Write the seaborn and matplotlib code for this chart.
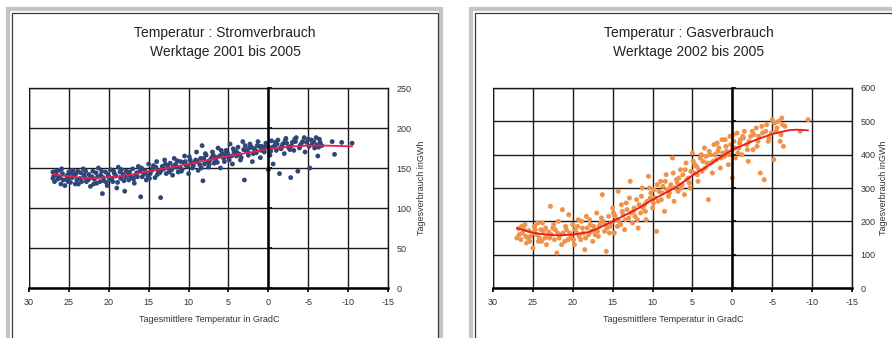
import matplotlib
matplotlib.use("Agg")
import matplotlib.pyplot as plt
import seaborn as sns
import pandas as pd
from matplotlib.patches import Rectangle

sns.set_theme(style="white")
plt.rcParams["font.family"] = ["Liberation Sans", "DejaVu Sans"]

# ---------------- data ----------------
strom_temp = [27, 27, 26.8, 26.5, 26.2, 26, 25.8, 25.5, 25.3, 25, 25, 24.8, 24.5, 24.3, 24, 23.8, 23.5, 23.2, 23, 22.8,
              22.5, 22.3, 22, 21.8, 21.5, 21.3, 21, 20.8, 20.6, 20.4, 20.2, 20, 19.8, 19.5, 19.3, 19, 18.8, 18.5, 18.2, 18,
              17.8, 17.5, 17.3, 17, 16.8, 16.5, 16.3, 16, 15.8, 15.5, 15.3, 15, 14.8, 14.5, 14.2, 14, 13.8, 13.5, 13.3, 13,
              12.8, 12.5, 12.3, 12, 11.8, 11.5, 11.3, 11, 10.8, 10.5, 10.3, 10, 9.8, 9.5, 9.3, 9, 8.8, 8.5, 8.3, 8.2,
              8, 7.8, 7.5, 7.3, 7, 6.8, 6.5, 6.3, 6, 5.8, 5.5, 5.3, 5, 4.8, 4.5, 4.3, 4, 3.8, 3.5, 3.2,
              3, 2.8, 2.5, 2.3, 2, 1.8, 1.5, 1.3, 1, 0.8, 0.5, 0.3, 0, 0, -0.2, -0.4, -0.6, -0.8, -1, -1.2,
              -1.4, -1.6, -1.8, -2, -2.2, -2.5, -2.8, -3, -3.2, -3.5, -3.7, -4, -4.3, -4.6, -5, -5.2, -5.5, -5.8, -6, -6.2,
              -6.5, -6.7, -8, -8.3, -9.2, -10.5,
              26.9, 26.4, 25.9, 25.1, 24.6, 24.1, 23.6, 23.1, 22.6, 22.1, 21.6, 21.1, 20.7, 20.1, 19.6, 19.1, 18.6, 18.1, 17.6, 17.1,
              16.6, 16.1, 15.6, 15.1, 14.6, 14.1, 13.6, 13.1, 12.6, 12.1, 11.6, 11.1, 10.6, 10.1, 9.6, 9.1, 8.6, 8.1, 7.6, 7.1,
              6.6, 6.1, 5.6, 5.1, 4.6, 4.1, 3.6, 3.1, 2.6, 2.1, 1.6, 1.1, 0.6, 0.1, -0.5, -1.1, -1.7, -2.3, -2.9, -3.4,
              -4.1, -4.8, -5.4, -6.1, -6.4,
              26.6, 26.1, 25.7, 25.2, 24.7, 24.2, 23.9, 23.4, 22.9, 22.4, 21.9, 21.4, 20.9, 20.3, 19.9, 19.4, 18.9, 18.4, 17.9, 17.4,
              16.9, 16.4, 15.9, 15.4, 14.9, 14.4, 13.9, 13.4, 12.9, 12.4, 11.9, 11.4, 10.9, 10.4, 9.9, 9.4, 8.9, 8.4, 7.9, 7.4,
              6.9, 6.4, 5.9, 5.4, 4.9, 4.4, 3.9, 3.4, 2.9, 2.4, 1.9, 1.4, 0.9, 0.4, -0.3, -0.9, -1.5, -2.1, -2.7, -3.3,
              -3.9, -4.5, -5.1, -5.7, -6.3]
strom_gwh = [145, 137, 133, 141, 147, 130, 143, 128, 136, 145, 139, 132, 147, 141, 135, 130, 144, 149, 138, 133,
             142, 127, 146, 136, 131, 150, 141, 118, 134, 145, 128, 139, 148, 133, 143, 125, 151, 137, 142, 121,
             146, 135, 140, 149, 131, 144, 152, 114, 139, 147, 135, 155, 143, 150, 138, 158, 146, 113, 152, 160,
             143, 149, 156, 141, 162, 151, 145, 158, 148, 165, 153, 143, 160, 150, 157, 170, 147, 162, 178, 134,
             155, 166, 151, 160, 170, 156, 163, 175, 150, 168, 158, 172, 163, 180, 155, 170, 165, 176, 160, 183,
             135, 172, 166, 180, 158, 174, 169, 183, 163, 177, 170, 181, 148, 175, 166, 184, 155, 178, 172, 185,
             143, 174, 180, 168, 187, 176, 138, 182, 172, 188, 146, 178, 183, 170, 186, 150, 180, 175, 188, 165,
             182, 178, 183, 167, 182, 181,
             140, 136, 149, 133, 138, 143, 137, 141, 135, 139, 144, 133, 138, 142, 137, 140, 145, 134, 143, 138,
             141, 146, 143, 140, 147, 151, 144, 149, 153, 148, 155, 151, 157, 152, 156, 160, 154, 162, 158, 163,
             159, 165, 162, 168, 165, 171, 167, 173, 170, 176, 172, 177, 174, 179, 176, 180, 177, 181, 178, 183,
             180, 182, 185, 179, 186,
             146, 138, 135, 141, 144, 130, 146, 133, 146, 137, 130, 139, 146, 132, 136, 146, 132, 148, 139, 145,
             136, 139, 150, 144, 137, 153, 142, 147, 155, 145, 152, 159, 146, 158, 164, 153, 158, 150, 168, 155,
             166, 157, 172, 167, 160, 174, 169, 163, 178, 175, 168, 178, 172, 176, 171, 182, 175, 184, 173, 186,
             175, 188, 177, 183, 176]

strom_trend_temp = [27, 25, 23, 22, 20, 18, 17, 15, 12, 10, 7, 5, 2, 0, -3, -5, -7, -9, -10.5]
strom_trend_gwh = [142, 139.5, 137.5, 137, 138.5, 140.5, 142, 146, 151, 155, 161, 165, 170, 174, 177, 178, 178, 177.5, 177]

gas_temp = [27, 26.8, 26.5, 26.3, 26, 25.8, 25.5, 25.3, 25, 24.8, 24.5, 24.3, 24, 23.8, 23.5, 23.3, 23, 22.8, 22.5, 22.3,
            22, 21.8, 21.5, 21.3, 21, 20.8, 20.5, 20.3, 20, 19.8, 19.5, 19.3, 19, 18.8, 18.5, 18.3, 18, 17.8, 17.5, 17.3,
            17, 16.8, 16.5, 16.3, 16, 15.8, 15.5, 15.3, 15, 14.8, 14.5, 14.3, 14, 13.8, 13.5, 13.3, 13, 12.8, 12.5, 12.3,
            12, 11.8, 11.5, 11.3, 11, 10.8, 10.5, 10.3, 10, 9.8, 9.5, 9.3, 9, 8.8, 8.5, 8.3, 8, 7.8, 7.5, 7.3,
            7, 6.8, 6.5, 6.3, 6, 5.8, 5.5, 5.3, 5, 4.8, 4.5, 4.3, 4, 3.8, 3.5, 3.2, 3, 2.8, 2.5, 2.3,
            2, 1.8, 1.5, 1.3, 1, 0.8, 0.5, 0.3, 0, 0, -0.2, -0.4, -0.6, -0.8, -1, -1.2, -1.5, -1.8, -2, -2.3,
            -2.6, -3, -3.2, -3.5, -3.8, -4, -4.3, -4.6, -5, -5.2, -5.5, -5.8, -6, -6.2, -6.4, -6.6, -8.5, -9.5,
            26.7, 26.1, 25.6, 24.9, 24.2, 23.7, 23.2, 22.7, 22.2, 21.7, 21.2, 20.6, 20.2, 19.7, 19.2, 18.7, 18.2, 17.7, 17.2, 16.7,
            16.2, 15.7, 15.2, 14.7, 14.2, 13.7, 13.2, 12.7, 12.2, 11.7, 11.2, 10.7, 10.2, 9.7, 9.2, 8.7, 8.2, 7.7, 7.2, 6.7,
            6.2, 5.7, 5.2, 4.7, 4.2, 3.7, 3.3, 2.7, 2.2, 1.7, 1.2, 0.7, 0.2, -0.3, -0.9, -1.4, -2.1, -2.7, -3.3, -4.2,
            -4.9, -5.6, -6.3,
            26.4, 25.9, 25.4, 24.7, 24.4, 23.9, 23.4, 22.9, 22.4, 21.9, 21.4, 20.9, 20.4, 19.9, 19.4, 18.9, 18.4, 17.9, 17.4, 16.9,
            16.4, 15.9, 15.4, 14.9, 14.4, 13.9, 13.4, 12.9, 12.4, 11.9, 11.4, 10.9, 10.4, 9.9, 9.4, 8.9, 8.4, 7.9, 7.4, 6.9,
            6.4, 5.9, 5.4, 4.9, 4.4, 3.9, 3.4, 2.9, 2.4, 1.9, 1.4, 0.9, 0.4, -0.1, -0.7, -1.3, -1.9, -2.5, -3.1, -3.7,
            -4.5, -5.3, -6.1]
gas_gwh = [150, 178, 145, 165, 190, 135, 172, 155, 120, 185, 160, 140, 175, 195, 150, 130, 168, 245, 180, 145,
           105, 200, 160, 235, 140, 175, 220, 150, 190, 130, 165, 205, 145, 180, 115, 215, 160, 190, 140, 175,
           225, 155, 195, 280, 170, 110, 215, 185, 240, 165, 205, 290, 190, 230, 175, 255, 210, 320, 195, 240,
           265, 180, 225, 300, 250, 205, 335, 270, 240, 295, 170, 260, 320, 285, 230, 340, 275, 300, 390, 260,
           325, 290, 355, 310, 280, 375, 330, 300, 405, 345, 365, 320, 390, 350, 420, 375, 265, 400, 345, 430,
           385, 410, 360, 445, 395, 425, 370, 455, 330, 415, 440, 390, 465, 420, 445, 400, 470, 430, 380, 455,
           415, 480, 440, 345, 465, 325, 490, 450, 505, 385, 470, 500, 440, 510, 425, 485, 470, 505,
           160, 175, 150, 165, 150, 170, 155, 160, 175, 150, 165, 145, 160, 175, 155, 165, 180, 170, 160, 185,
           200, 180, 195, 215, 200, 220, 235, 225, 215, 250, 240, 260, 285, 270, 290, 305, 295, 310, 300, 330,
           340, 325, 350, 370, 355, 380, 395, 375, 400, 420, 405, 410, 430, 420, 435, 450, 440, 460, 455, 470,
           465, 480, 490,
           185, 155, 140, 175, 195, 140, 180, 150, 190, 165, 130, 185, 165, 145, 185, 200, 150, 205, 185, 170,
           210, 190, 165, 225, 185, 250, 205, 270, 230, 205, 275, 230, 300, 255, 310, 265, 320, 285, 345, 315,
           300, 355, 315, 380, 340, 400, 360, 410, 380, 435, 390, 445, 400, 460, 405, 455, 415, 470, 425, 485,
           440, 495, 460]

gas_trend_temp = [27, 26, 25, 24, 22, 20, 18, 17, 15, 13, 12, 10, 8, 7, 5, 3, 2, 0, -2, -3, -5, -7, -8, -9.5]
gas_trend_gwh = [180, 172, 166, 162, 158, 160, 168, 177, 200, 224, 236, 265, 290, 303, 338, 367, 384, 415, 435, 445, 462, 473, 475, 473]

x_ticks = [30, 25, 20, 15, 10, 5, 0, -5, -10, -15]
strom_yticks = [0, 50, 100, 150, 200, 250]
gas_yticks = [0, 100, 200, 300, 400, 500, 600]

titles = [("Temperatur : Stromverbrauch", "Werktage 2001 bis 2005"),
          ("Temperatur : Gasverbrauch", "Werktage 2002 bis 2005")]
xlabel = "Tagesmittlere Temperatur in GradC"
ylabel = "Tagesverbrauch inGWh"

strom_df = pd.DataFrame({"temp": strom_temp, "gwh": strom_gwh})
strom_trend = pd.DataFrame({"temp": strom_trend_temp, "gwh": strom_trend_gwh})
gas_df = pd.DataFrame({"temp": gas_temp, "gwh": gas_gwh})
gas_trend = pd.DataFrame({"temp": gas_trend_temp, "gwh": gas_trend_gwh})

# ---------------- figure ----------------
W, H = 892, 338
fig = plt.figure(figsize=(W / 100, H / 100), dpi=100)
fig.patch.set_facecolor("white")


def fx(px):
    return px / W


def fy(py):
    return 1 - py / H


# panel frames
for (x0, x1) in [(8, 441), (471, 905)]:
    fig.patches.append(Rectangle((fx(x0), fy(360)), fx(x1 - x0), (360 - 9) / H,
                                 transform=fig.transFigure, fill=False,
                                 edgecolor="#c4c4c4", linewidth=3.0, zorder=0))
    fig.patches.append(Rectangle((fx(x0 + 3.5), fy(360)), fx(x1 - x0 - 7), (360 - 12.5) / H,
                                 transform=fig.transFigure, fill=False,
                                 edgecolor="#3a3a3a", linewidth=0.9, zorder=0))

panels = [
    dict(ax_left=29, df=strom_df, trend=strom_trend, ymax=250, yticks=strom_yticks, s=12,
         color="#2e4778", line="#e8204c", title_x=225, ylab_x=421, title=titles[0]),
    dict(ax_left=493, df=gas_df, trend=gas_trend, ymax=600, yticks=gas_yticks, s=13,
         color="#f0924a", line="#e8181c", title_x=689, ylab_x=883, title=titles[1]),
]

for p in panels:
    ax = fig.add_axes([fx(p["ax_left"]), fy(288), fx(359), 200 / H])
    ax.set_facecolor("white")
    sns.scatterplot(data=p["df"], x="temp", y="gwh", ax=ax, color=p["color"],
                    s=p["s"], marker="o", edgecolor="none", linewidth=0, zorder=3)
    sns.lineplot(data=p["trend"], x="temp", y="gwh", ax=ax, color=p["line"],
                 linewidth=1.3, zorder=4, estimator=None, sort=False)
    ax.set_xlim(30, -15)
    ax.set_ylim(0, p["ymax"])
    ax.set_xticks(x_ticks)
    ax.set_xticklabels([str(t) for t in x_ticks])
    ax.set_yticks(p["yticks"])
    ax.set_yticklabels([str(t) for t in p["yticks"]])
    ax.grid(True, color="#1a1a1a", linewidth=1.0, zorder=1)
    ax.set_axisbelow(True)
    ax.set_xlabel("")
    ax.set_ylabel("")
    for s in ["top", "right"]:
        ax.spines[s].set_color("#1a1a1a")
        ax.spines[s].set_linewidth(1.0)
    ax.spines["bottom"].set_color("black")
    ax.spines["bottom"].set_linewidth(1.8)
    ax.spines["left"].set_position(("data", 0))
    ax.spines["left"].set_color("black")
    ax.spines["left"].set_linewidth(1.8)
    ax.spines["left"].set_zorder(5)
    ax.axvline(30, color="#1a1a1a", linewidth=1.0, zorder=1)
    ax.tick_params(axis="x", bottom=True, top=False, direction="out", length=3,
                   width=1.2, color="black", labelsize=6.5, labelcolor="#333333", pad=4)
    ax.tick_params(axis="y", left=True, right=False, labelleft=False, labelright=True,
                   direction="in", length=3, width=1.2, color="black",
                   labelsize=6.5, labelcolor="#333333", pad=6)
    for lab in ax.get_yticklabels():
        lab.set_horizontalalignment("left")

    fig.text(fx(p["title_x"]), fy(33), p["title"][0], ha="center", va="center",
             fontsize=10, color="#222222")
    fig.text(fx(p["title_x"]), fy(52), p["title"][1], ha="center", va="center",
             fontsize=10, color="#222222")
    fig.text(fx(p["ax_left"] + 180), fy(320), xlabel, ha="center", va="center",
             fontsize=6.5, color="#333333")
    fig.text(fx(p["ylab_x"]), fy(188), ylabel, ha="center", va="center",
             rotation=90, fontsize=6.5, color="#333333")

fig.savefig("out.png", dpi=100, facecolor="white")
